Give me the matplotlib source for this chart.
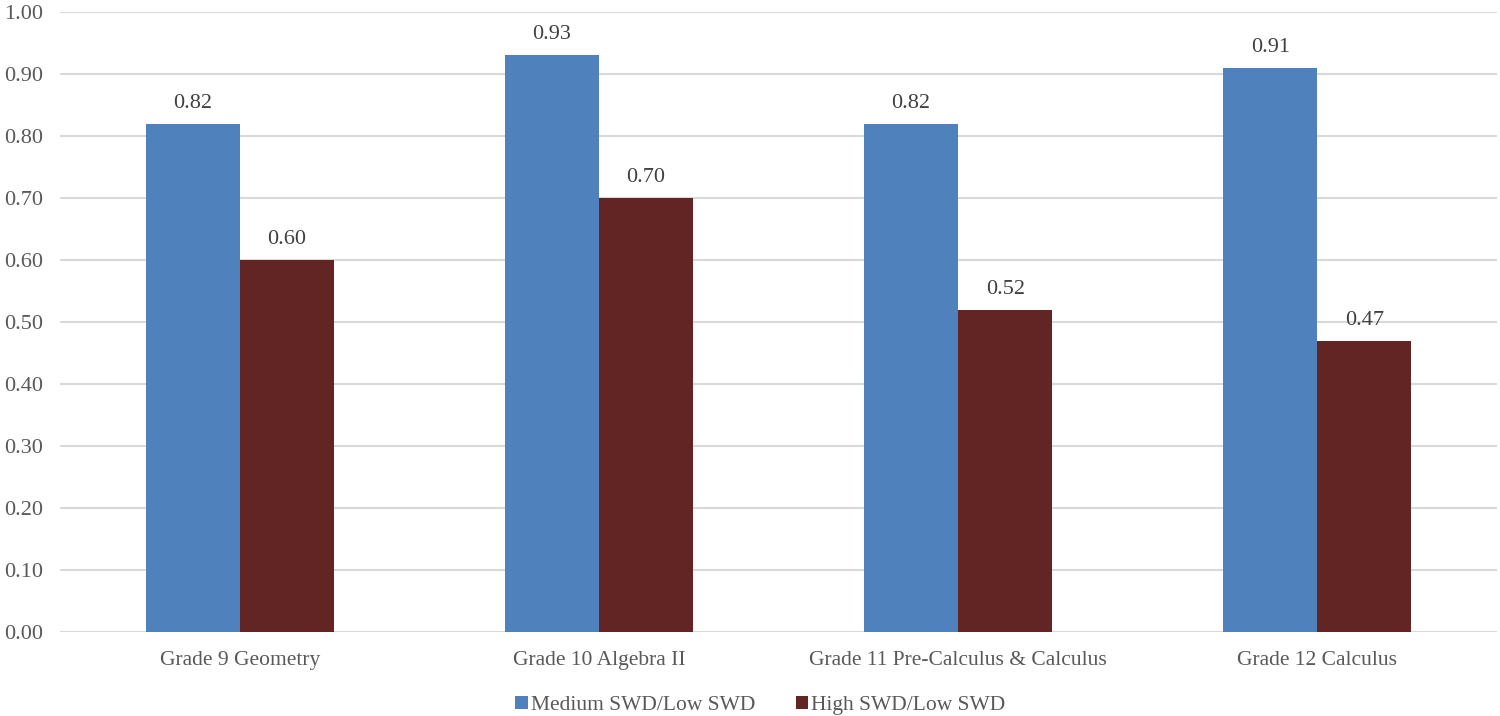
import matplotlib.pyplot as plt
import numpy as np

categories = ['Grade 9 Geometry', 'Grade 10 Algebra II',
              'Grade 11 Pre-Calculus & Calculus', 'Grade 12 Calculus']
medium_low = [0.82, 0.93, 0.82, 0.91]
high_low = [0.60, 0.70, 0.52, 0.47]
series_names = ['Medium SWD/Low SWD', 'High SWD/Low SWD']

plt.rcParams['font.family'] = ['Liberation Serif', 'DejaVu Serif']

fig = plt.figure(figsize=(15, 7.16), dpi=100)
ax = fig.add_axes([0.04, 0.1173, 0.958, 0.8659])

x = np.arange(len(categories))
bar_width = 0.262
bars1 = ax.bar(x - bar_width / 2, medium_low, width=bar_width, color='#4F81BD',
               label=series_names[0], zorder=3)
bars2 = ax.bar(x + bar_width / 2, high_low, width=bar_width, color='#632523',
               label=series_names[1], zorder=3)

for bars in (bars1, bars2):
    ax.bar_label(bars, labels=['%.2f' % b.get_height() for b in bars],
                 padding=8, fontsize=16, color='#404040')

ax.set_xlim(-0.5, len(categories) - 0.5)
ax.set_ylim(0, 1.0)
ax.set_yticks(np.arange(0, 1.01, 0.1))
ax.set_yticklabels(['%.2f' % v for v in np.arange(0, 1.01, 0.1)])
ax.set_xticks(x)
ax.set_xticklabels(categories)
ax.tick_params(axis='both', length=0, labelcolor='#595959')
ax.tick_params(axis='y', labelsize=16, pad=12)
ax.tick_params(axis='x', labelsize=15.5, pad=14)

ax.yaxis.grid(True, color='#D9D9D9', linewidth=1.5, zorder=0)
for s in ax.spines.values():
    s.set_visible(False)

fig.legend(loc='center', bbox_to_anchor=(0.507, 0.015), ncol=2, frameon=False,
           fontsize=15.5, handlelength=0.56, handleheight=0.56, handletextpad=0.15,
           columnspacing=1.9, labelcolor='#595959')

plt.savefig('out.png', dpi=100)
